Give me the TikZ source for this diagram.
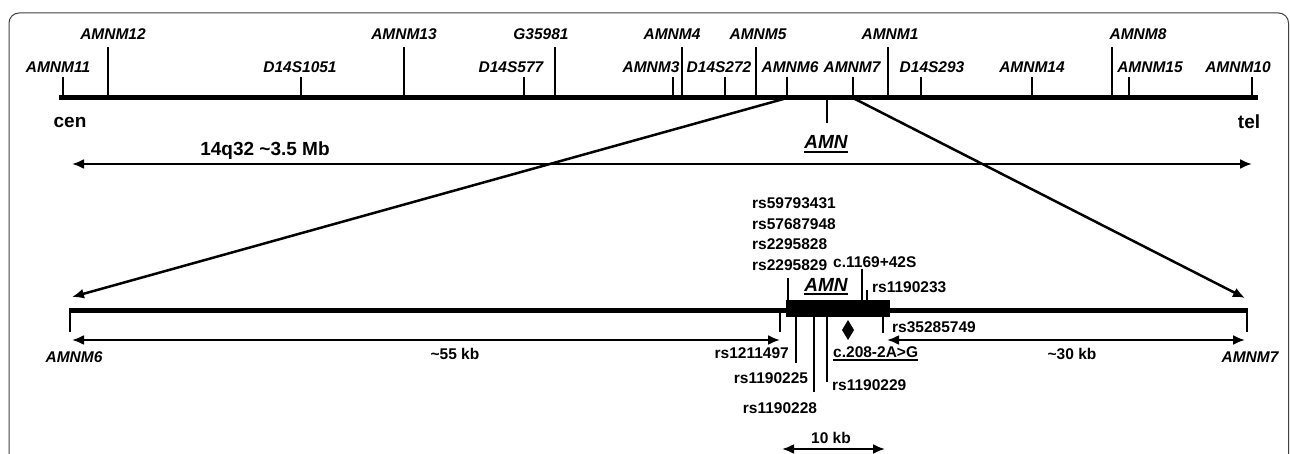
\documentclass[tikz,border=0pt]{standalone}
\usepackage{fontspec}
\setmainfont{Liberation Sans}
\usetikzlibrary{arrows.meta}
\begin{document}
\begin{tikzpicture}[x=1pt,y=-1pt,
  chrom/.style={line width=5pt},
  tickln/.style={line width=2.6pt},
  mk/.style={font=\fontsize{15.5}{17}\selectfont\bfseries\itshape, inner sep=0pt},
  mkbig/.style={font=\fontsize{19}{21}\selectfont\bfseries\itshape, inner sep=0pt},
  lab/.style={font=\fontsize{15.5}{17}\selectfont\bfseries, inner sep=0pt},
  labbig/.style={font=\fontsize{19}{21}\selectfont\bfseries, inner sep=0pt},
  dim/.style={line width=2.2pt, {Latex[length=12pt,width=10pt]}-{Latex[length=12pt,width=10pt]}},
  zoomln/.style={line width=2.5pt, -{Latex[length=12pt,width=10pt]}},
  uline/.style={line width=2pt},
  frame/.style={draw=black!75, line width=1pt, rounded corners=10pt}
]
\useasboundingbox (0,0) rectangle (1290,454);
\draw[frame] (9,480) -- (9,13) -- (1288.5,13) -- (1288.5,480);

% top chromosome
\draw[chrom] (59,98) -- (1258,98);
\foreach \x/\t/\lx/\ly/\nm/\txt in {
  63/77/58/67/m11/AMNM11,
  108/47/113/34/m12/AMNM12,
  301/77/300/67/d1051/D14S1051,
  404/47/404/34/m13/AMNM13,
  524/77/511/67/d577/D14S577,
  555/47/541/34/g35981/G35981,
  673/77/651/67/m3/AMNM3,
  682/47/672/34/m4/AMNM4,
  725/77/719/67/d272/D14S272,
  756/47/758/34/m5/AMNM5,
  787/77/790/67/m6/AMNM6,
  853/77/852/67/m7/AMNM7,
  888/47/890/34/m1/AMNM1,
  921/77/932/67/d293/D14S293,
  1032/77/1032/67/m14/AMNM14,
  1112/47/1138/34/m8/AMNM8,
  1129/77/1150/67/m15/AMNM15,
  1252/77/1238/67/m10/AMNM10}{
  \coordinate (t\nm) at (\x,\t);
  \coordinate (b\nm) at (\x,98);
  \draw[tickln] (b\nm) -- (t\nm);
  \node[mk] (\nm) at (\lx,\ly) {\txt};
}
\node[labbig] (cen) at (70,122) {cen};
\node[labbig] (tel) at (1249,122) {tel};

% AMN on top map
\coordinate (amntopA) at (827,98);
\coordinate (amntopB) at (827,123);
\draw[tickln] (amntopA) -- (amntopB);
\node[mkbig] (amntop) at (826,142) {AMN};
\draw[uline] ([yshift=-3pt]amntop.south west) -- ([yshift=-3pt]amntop.south east);

% 14q32 arrow
\coordinate (qa) at (72,164);
\coordinate (qb) at (1252,164);
\draw[dim] (qa) -- (qb);
\node[labbig] (q32) at (265,151) {14q32 \textasciitilde3.5 Mb};

% zoom lines
\coordinate (zl) at (72,297);
\coordinate (zr) at (1245,298);
\draw[zoomln] (bm6) -- (zl);
\draw[zoomln] (bm7) -- (zr);

% lower line
\coordinate (la) at (70,310);
\coordinate (lb) at (1247,310);
\draw[chrom] (la) -- (lb);
\draw[tickln] (70,308) -- (70,332);
\draw[tickln] (1247,308) -- (1247,332);
\node[mk] (lm6) at (74,357) {AMNM6};
\node[mk] (lm7) at (1250,357) {AMNM7};

% distance arrows
\coordinate (d55a) at (72,340);
\coordinate (d55b) at (780,340);
\draw[dim] (d55a) -- (d55b);
\node[lab] (k55) at (455,354) {\textasciitilde55 kb};
\coordinate (d30a) at (887,340);
\coordinate (d30b) at (1245,340);
\draw[dim] (d30a) -- (d30b);
\node[lab] (k30) at (1072,354) {\textasciitilde30 kb};

% gene box
\fill (786,300) rectangle (890,317);
\node[mkbig] (amn) at (826,285) {AMN};
\draw[uline] ([yshift=-2.5pt]amn.south west) -- ([yshift=-2.5pt]amn.south east);

% SNPs above
\draw[tickln] (788,278) -- (788,302);
\node[lab,anchor=west] (s1) at (752,203) {rs59793431};
\node[lab,anchor=west] (s2) at (752,224) {rs57687948};
\node[lab,anchor=west] (s3) at (752,244) {rs2295828};
\node[lab,anchor=west] (s4) at (752,265) {rs2295829};
\draw[tickln] (862,269) -- (862,302);
\node[lab,anchor=west] (c1169) at (833,262) {c.1169+42S};
\draw[tickln] (867,290) -- (867,302);
\node[lab,anchor=west] (s233) at (872,287) {rs1190233};

% SNPs below
\draw[tickln] (780,312) -- (780,332);
\node[lab,anchor=east] (s497) at (789,353) {rs1211497};
\draw[tickln] (796,315) -- (796,363);
\node[lab] (s225) at (771,378) {rs1190225};
\draw[tickln] (814,315) -- (814,392);
\node[lab] (s228) at (780,408) {rs1190228};
\draw[tickln] (827,315) -- (827,382);
\node[lab,anchor=west] (s229) at (832,385) {rs1190229};
\draw[tickln] (883,315) -- (883,333);
\node[lab,anchor=west] (s749) at (892,327) {rs35285749};

% mutation
\fill (848,320) -- (854,330) -- (848,340) -- (842,330) -- cycle;
\node[lab,anchor=west] (mut) at (833,352) {c.208-2A>G};
\draw[uline] ([yshift=-2.5pt]mut.south west) -- ([yshift=-2.5pt]mut.south east);

% scale
\node[lab] (k10) at (831,438) {10 kb};
\coordinate (k10a) at (782,449);
\coordinate (k10b) at (885,449);
\draw[dim] (k10a) -- (k10b);
\end{tikzpicture}
\end{document}
